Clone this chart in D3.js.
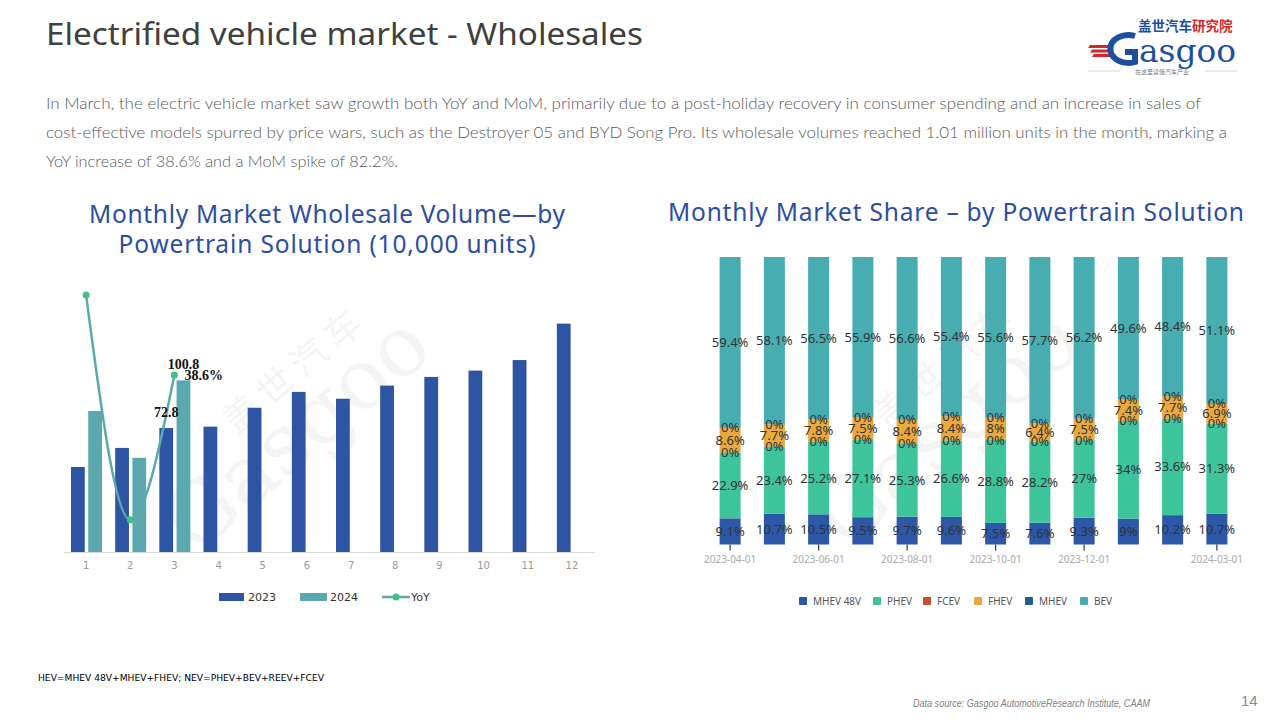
<!DOCTYPE html>
<html>
<head>
<meta charset="utf-8">
<script src="https://cdn.jsdelivr.net/npm/d3@7"></script>
<style>
  html,body{margin:0;padding:0;background:#fff;}
  svg{display:block;}
</style>
</head>
<body>
<svg id="chart" width="1280" height="720"></svg>
<script>
// ---------- DATA ----------
const months = ["1","2","3","4","5","6","7","8","9","10","11","12"];
const vol2023 = [49.9, 61.1, 72.8, 73.6, 84.7, 94.0, 90.0, 97.7, 102.8, 106.5, 112.7, 134.1];
const vol2024 = [82.8, 55.3, 100.8];
const yoy2024 = [66.0, -11.0, 38.6];
const volLabels = [{series:"2023", month:"3", text:"72.8"}, {series:"2024", month:"3", text:"100.8"}];

const shareDates = ["2023-04-01","2023-05-01","2023-06-01","2023-07-01","2023-08-01","2023-09-01",
                    "2023-10-01","2023-11-01","2023-12-01","2024-01-01","2024-02-01","2024-03-01"];
const shareTicks = ["2023-04-01","2023-06-01","2023-08-01","2023-10-01","2023-12-01","2024-03-01"];
const powertrains = ["MHEV 48V","PHEV","FCEV","FHEV","MHEV","BEV"];
const shareMHEV48 = [9.1, 10.7, 10.5, 9.5, 9.7, 9.6, 7.5, 7.6, 9.3, 9, 10.2, 10.7];
const sharePHEV   = [22.9, 23.4, 25.2, 27.1, 25.3, 26.6, 28.8, 28.2, 27, 34, 33.6, 31.3];
const shareFCEV   = [0,0,0,0,0,0,0,0,0,0,0,0];
const shareFHEV   = [8.6, 7.7, 7.8, 7.5, 8.4, 8.4, 8, 6.4, 7.5, 7.4, 7.7, 6.9];
const shareMHEV   = [0,0,0,0,0,0,0,0,0,0,0,0];
const shareBEV    = [59.4, 58.1, 56.5, 55.9, 56.6, 55.4, 55.6, 57.7, 56.2, 49.6, 48.4, 51.1];

const paragraph = [
  "In March, the electric vehicle market saw growth both YoY and MoM, primarily due to a post-holiday recovery in consumer spending and an increase in sales of",
  "cost-effective models spurred by price wars, such as the Destroyer 05 and BYD Song Pro. Its wholesale volumes reached 1.01 million units in the month, marking a",
  "YoY increase of 38.6% and a MoM spike of 82.2%."
];

// ---------- STYLE ----------
const C2023 = "#2d55a3", C2024 = "#5ba9ae", CYOY_LINE = "#5ba9ae", CYOY_DOT = "#3dbf86";
const ptColors = {"MHEV 48V":"#2c58a7","PHEV":"#3dc49b","FCEV":"#c9502b","FHEV":"#e9a93f","MHEV":"#215c8e","BEV":"#47adb0"};
const titleBlue = "#2c4ea0";

const svg = d3.select("#chart");

// ---------- HEADER ----------
svg.append("text").attr("x",46).attr("y",45)
  .attr("font-family","Noto Sans").attr("font-size",31).attr("fill","#404040")
  .attr("textLength",597).attr("lengthAdjust","spacingAndGlyphs")
  .text("Electrified vehicle market - Wholesales");

paragraph.forEach((t,i)=>{
  const tx = svg.append("text").attr("x",46).attr("y",109 + i*29)
    .attr("font-family","Lato").attr("font-weight",300).attr("font-size",15.5).attr("fill","#5a5a5a").text(t);
  const targetLen = [1155, 1181, 352][i];
  tx.attr("textLength",targetLen).attr("lengthAdjust","spacingAndGlyphs");
});

// Logo
const logo = svg.append("g");
logo.append("text").attr("x",1138).attr("y",31).attr("font-family","Noto Sans CJK SC").attr("font-weight",700)
  .attr("font-size",13.5).attr("fill","#1d4f9e").text("盖世汽车")
  .append("tspan").attr("fill","#d7262b").text("研究院");
[0,1,2].forEach(i=>{
  logo.append("path").attr("d",`M${1090+i*2},${45+i*4.5} h22 l-2,3 h-22 z`).attr("fill","#d7262b");
});
logo.append("path").attr("d","M1135,36 a18,14 0 1,0 0,26 v-10 h-10").attr("fill","none").attr("stroke","#1d4f9e").attr("stroke-width",6);
logo.append("text").attr("x",1139).attr("y",62).attr("font-family","DejaVu Serif").attr("font-size",32)
  .attr("fill","#1d4f9e").attr("textLength",97).attr("lengthAdjust","spacingAndGlyphs").text("asgoo");
logo.append("line").attr("x1",1088).attr("x2",1120).attr("y1",71).attr("y2",71).attr("stroke","#bbb").attr("stroke-width",0.6);
logo.append("line").attr("x1",1205).attr("x2",1237).attr("y1",71).attr("y2",71).attr("stroke","#bbb").attr("stroke-width",0.6);
logo.append("text").attr("x",1162).attr("y",73.5).attr("text-anchor","middle").attr("font-family","Noto Sans CJK SC")
  .attr("font-size",6).attr("fill","#777").text("在这里读懂汽车产业");

// ---------- WATERMARKS ----------
function watermark(cx, cy){
  const g = svg.append("g").attr("transform",`translate(${cx},${cy}) rotate(-40)`).attr("opacity",0.07);
  g.append("text").attr("x",0).attr("y",0).attr("text-anchor","middle").attr("font-family","DejaVu Serif")
    .attr("font-size",84).attr("fill","#777").text("Gasgoo");
  g.append("text").attr("x",40).attr("y",-66).attr("text-anchor","middle").attr("font-family","Noto Sans CJK SC")
    .attr("font-size",36).attr("fill","#777").attr("letter-spacing",8).text("盖世汽车");
}

// ---------- LEFT CHART ----------
const leftTitle = ["Monthly Market Wholesale Volume\u2014by","Powertrain Solution (10,000 units)"];
const leftTitleLen = [476, 417];
leftTitle.forEach((t,i)=>{
  svg.append("text").attr("x",327).attr("y",223 + i*30).attr("text-anchor","middle")
    .attr("font-family","Noto Sans").attr("font-size",24.5).attr("fill",titleBlue)
    .attr("textLength",leftTitleLen[i]).attr("lengthAdjust","spacing").text(t);
});

watermark(315, 455);

const xL = d3.scaleBand().domain(months).range([64, 594]).padding(0);
const xSub = d3.scaleBand().domain(["2023","2024"]).range([7, 38]).paddingInner(0.2);
const yL = d3.scaleLinear().domain([0,160]).range([552, 279.5]);
const yY = d3.scaleLinear().domain([-22, 80]).range([552, 254]);

const gL = svg.append("g");
gL.selectAll("rect.b23").data(vol2023).join("rect")
  .attr("x",(d,i)=>xL(months[i]) + xSub("2023")).attr("width",xSub.bandwidth())
  .attr("y",d=>yL(d)).attr("height",d=>yL(0)-yL(d)).attr("fill",C2023);
gL.selectAll("rect.b24").data(vol2024).join("rect")
  .attr("x",(d,i)=>xL(months[i]) + xSub("2024")).attr("width",xSub.bandwidth())
  .attr("y",d=>yL(d)).attr("height",d=>yL(0)-yL(d)).attr("fill",C2024);

const axL = gL.append("g").attr("transform",`translate(0,${yL(0)})`)
  .call(d3.axisBottom(xL).tickSize(0).tickPadding(10));
axL.select(".domain").attr("stroke","#d9d9d9");
axL.selectAll("text").attr("font-family","DejaVu Sans").attr("font-size",10).attr("fill","#9a9a9a");

const lineYoY = d3.line().x((d,i)=>xL(months[i]) + xL.bandwidth()/2).y(d=>yY(d)).curve(d3.curveMonotoneX);
gL.append("path").datum(yoy2024).attr("d",lineYoY).attr("fill","none").attr("stroke",CYOY_LINE).attr("stroke-width",2.5);
gL.selectAll("circle.yoy").data(yoy2024).join("circle")
  .attr("cx",(d,i)=>xL(months[i]) + xL.bandwidth()/2).attr("cy",d=>yY(d)).attr("r",3.5).attr("fill",CYOY_DOT);

volLabels.forEach(l=>{
  const arr = l.series==="2023" ? vol2023 : vol2024;
  const idx = months.indexOf(l.month);
  gL.append("text").attr("x",xL(l.month) + xSub(l.series) + xSub.bandwidth()/2).attr("y",yL(arr[idx]) - 11)
    .attr("text-anchor","middle").attr("font-family","Liberation Serif").attr("font-weight",700)
    .attr("font-size",14).attr("fill","#111").text(l.text);
});
gL.append("text").attr("x",xL("3") + xL.bandwidth()/2 + 10).attr("y",yY(yoy2024[2]) + 5)
  .attr("font-family","Liberation Serif").attr("font-weight",700).attr("font-size",14).attr("fill","#111")
  .text(d3.format(".1f")(yoy2024[2]) + "%");

// left legend
const lg = svg.append("g").attr("font-family","DejaVu Sans").attr("font-size",11).attr("fill","#333");
lg.append("rect").attr("x",219).attr("y",593).attr("width",25).attr("height",8).attr("fill",C2023);
lg.append("text").attr("x",248).attr("y",601).text("2023");
lg.append("rect").attr("x",300).attr("y",593).attr("width",27).attr("height",8).attr("fill",C2024);
lg.append("text").attr("x",330).attr("y",601).text("2024");
lg.append("line").attr("x1",382).attr("x2",410).attr("y1",597).attr("y2",597).attr("stroke",CYOY_LINE).attr("stroke-width",2.5);
lg.append("circle").attr("cx",396).attr("cy",597).attr("r",3.5).attr("fill",CYOY_DOT);
lg.append("text").attr("x",411).attr("y",601).text("YoY");

// ---------- RIGHT CHART ----------
svg.append("text").attr("x",956).attr("y",221).attr("text-anchor","middle")
  .attr("font-family","Noto Sans").attr("font-size",24.5).attr("fill",titleBlue)
  .attr("textLength",576).attr("lengthAdjust","spacing")
  .text("Monthly Market Share \u2013 by Powertrain Solution");

watermark(965, 450);

const shareSeries = [shareMHEV48, sharePHEV, shareFCEV, shareFHEV, shareMHEV, shareBEV];
const table = shareDates.map((d,i)=>{
  const o = {date:d};
  powertrains.forEach((p,k)=>o[p] = shareSeries[k][i]);
  return o;
});
const stack = d3.stack().keys(powertrains).offset(d3.stackOffsetExpand)(table);

const xR = d3.scaleBand().domain(shareDates).range([708, 1239]).paddingInner(0.525).paddingOuter(0.2625);
const yR = d3.scaleLinear().domain([0,1]).range([544.5, 257]);

const gR = svg.append("g");
gR.selectAll("g.s").data(stack).join("g").attr("fill",d=>ptColors[d.key])
  .selectAll("rect").data(d=>d).join("rect")
  .attr("x",d=>xR(d.data.date)).attr("width",xR.bandwidth())
  .attr("y",d=>yR(d[1])).attr("height",d=>yR(d[0])-yR(d[1]));

const axR = gR.append("g").attr("transform",`translate(0,${yR(0)})`)
  .call(d3.axisBottom(xR).tickValues(shareTicks).tickSize(6).tickPadding(5));
axR.select(".domain").remove();
axR.selectAll("line").attr("stroke","#333").attr("stroke-width",1.2);
axR.selectAll("text").attr("font-family","Noto Sans").attr("font-size",10).attr("fill","#aaa");

// segment labels
const labels = [];
stack.forEach(s=>{
  s.forEach(d=>{
    labels.push({x:xR(d.data.date)+xR.bandwidth()/2, y:(yR(d[0])+yR(d[1]))/2, v:d.data[s.key]});
  });
});
gR.selectAll("text.lbl").data(labels).join("text")
  .attr("x",d=>d.x).attr("y",d=>d.y + 4.5).attr("text-anchor","middle")
  .attr("font-family","Noto Sans").attr("font-size",13).attr("fill","#333")
  .text(d=>d.v + "%");

// right legend
const legX = [799, 873, 923, 974, 1025, 1080];
const rl = svg.append("g").attr("font-family","Noto Sans").attr("font-size",10).attr("fill","#555");
powertrains.forEach((p,i)=>{
  rl.append("rect").attr("x",legX[i]).attr("y",597).attr("width",8).attr("height",8).attr("rx",1).attr("fill",ptColors[p]);
  rl.append("text").attr("x",legX[i]+14).attr("y",605).text(p);
});

// ---------- FOOTER ----------
svg.append("text").attr("x",38).attr("y",681).attr("font-family","Liberation Sans Narrow, DejaVu Sans Condensed, Liberation Sans")
  .attr("font-size",9.5).attr("fill","#000").attr("textLength",286).attr("lengthAdjust","spacingAndGlyphs")
  .text("HEV=MHEV 48V+MHEV+FHEV; NEV=PHEV+BEV+REEV+FCEV");
svg.append("text").attr("x",913).attr("y",707).attr("font-family","Liberation Sans").attr("font-style","italic")
  .attr("font-size",10.5).attr("fill","#7f7f7f").attr("textLength",237).attr("lengthAdjust","spacingAndGlyphs")
  .text("Data source: Gasgoo AutomotiveResearch Institute, CAAM");
svg.append("text").attr("x",1241).attr("y",706).attr("font-family","Liberation Sans")
  .attr("font-size",15).attr("fill","#8a8a8a").text("14");
</script>
</body>
</html>
